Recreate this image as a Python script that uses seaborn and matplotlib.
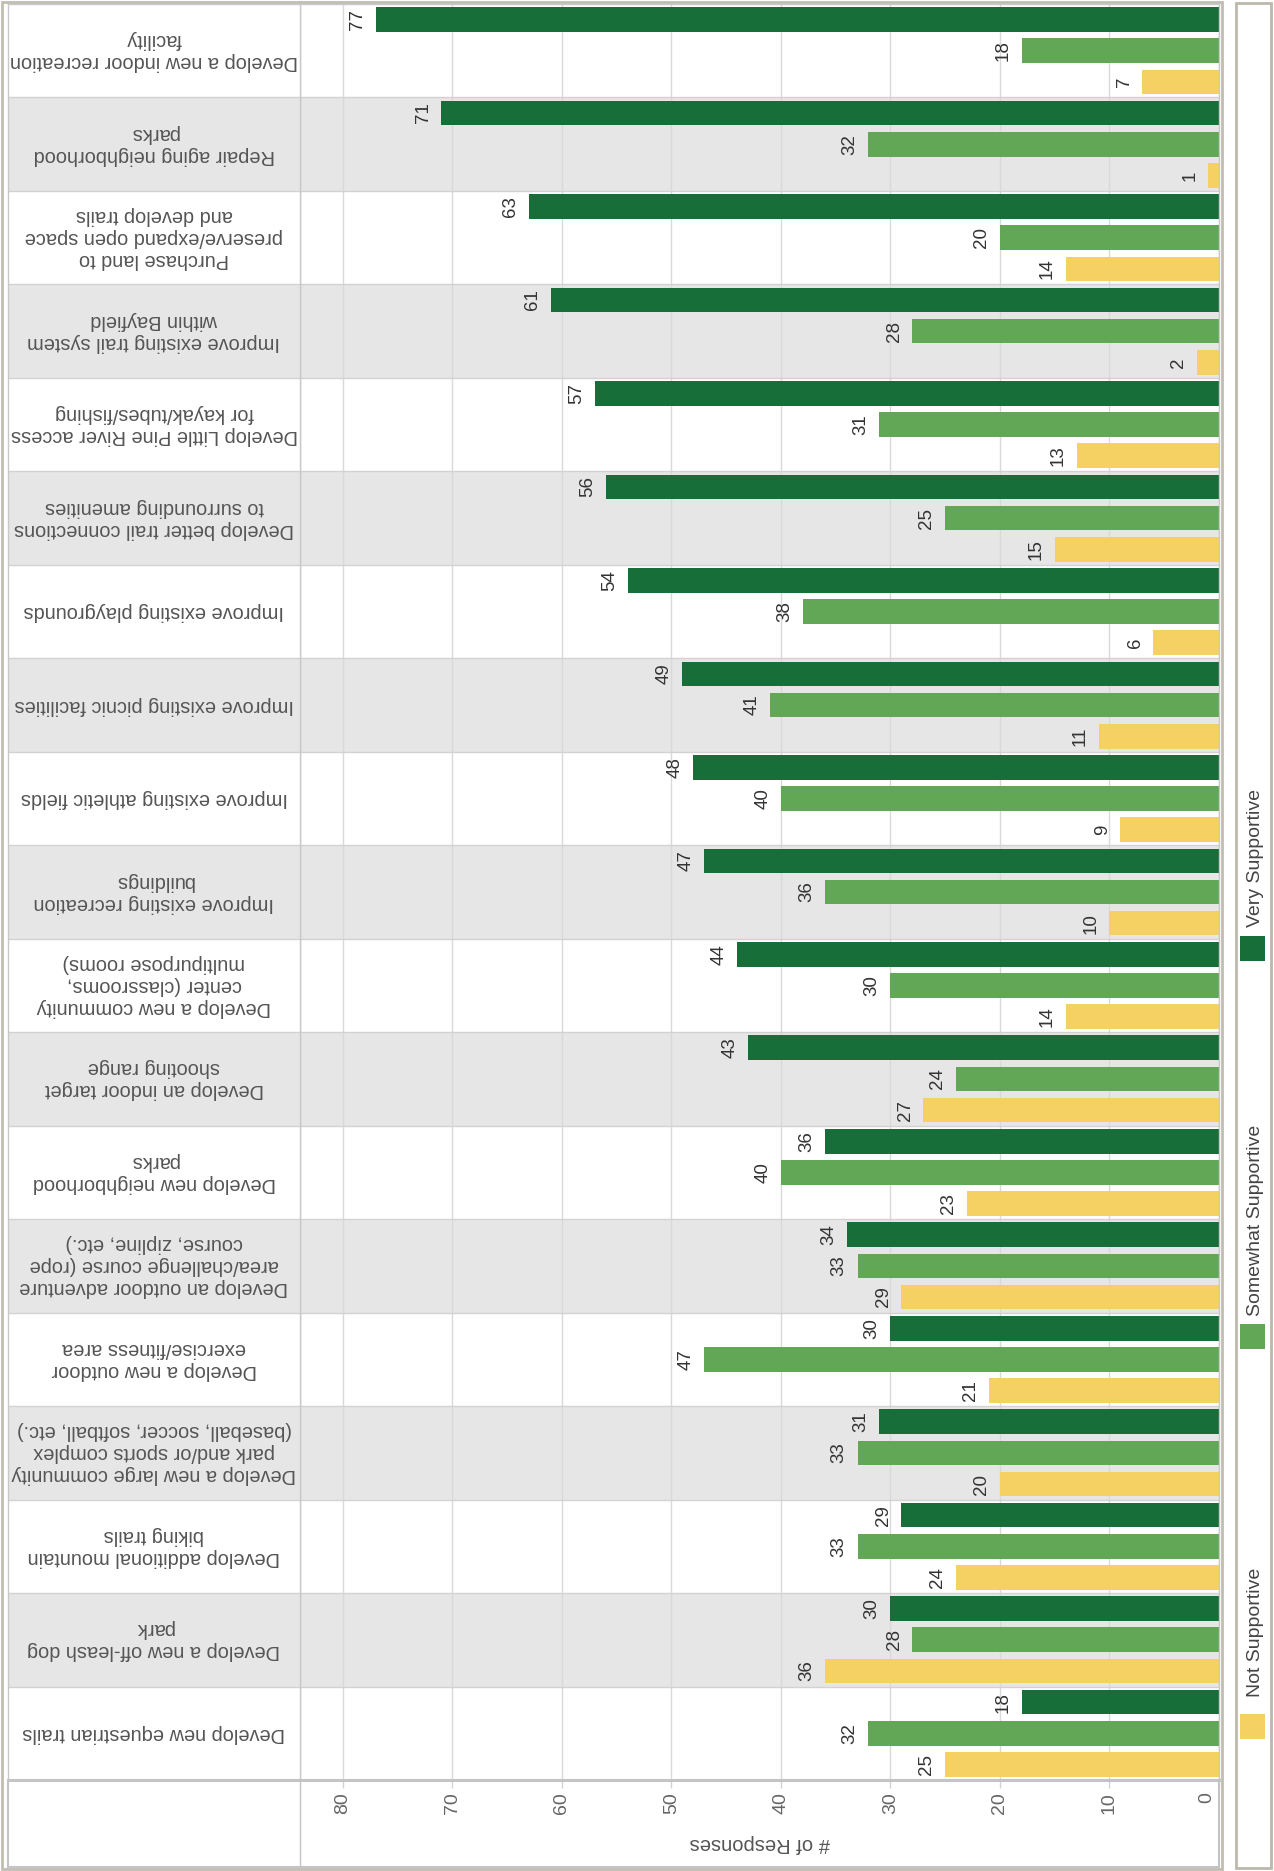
import matplotlib
matplotlib.use('Agg')
import matplotlib.pyplot as plt
from matplotlib.patches import Rectangle
from matplotlib.lines import Line2D
from matplotlib.transforms import ScaledTranslation
import pandas as pd
import seaborn as sns

# Survey data (top row first)
projects = [
    "Develop a new indoor recreation\nfacility",
    "Repair aging neighborhood\nparks",
    "Purchase land to\npreserve/expand open space\nand develop trails",
    "Improve existing trail system\nwithin Bayfield",
    "Develop Little Pine River access\nfor kayak/tubes/fishing",
    "Develop better trail connections\nto surrounding amenities",
    "Improve existing playgrounds",
    "Improve existing picnic facilities",
    "Improve existing athletic fields",
    "Improve existing recreation\nbuildings",
    "Develop a new community\ncenter (classrooms,\nmultipurpose rooms)",
    "Develop an indoor target\nshooting range",
    "Develop new neighborhood\nparks",
    "Develop an outdoor adventure\narea/challenge course (rope\ncourse, zipline, etc.)",
    "Develop a new outdoor\nexercise/fitness area",
    "Develop a new large community\npark and/or sports complex\n(baseball, soccer, softball, etc.)",
    "Develop additional mountain\nbiking trails",
    "Develop a new off-leash dog\npark",
    "Develop new equestrian trails",
]
very_supportive = [77, 71, 63, 61, 57, 56, 54, 49, 48, 47, 44, 43, 36, 34, 30, 31, 29, 30, 18]
somewhat_supportive = [18, 32, 20, 28, 31, 25, 38, 41, 40, 36, 30, 24, 40, 33, 47, 33, 33, 28, 32]
not_supportive = [7, 1, 14, 2, 13, 15, 6, 11, 9, 10, 14, 27, 23, 29, 21, 20, 24, 36, 25]

levels = ["Very Supportive", "Somewhat Supportive", "Not Supportive"]
colors = ["#176e38", "#62a756", "#f5d062"]
x_ticks = list(range(0, 81, 10))

df = pd.DataFrame({
    "Project": projects,
    levels[0]: very_supportive,
    levels[1]: somewhat_supportive,
    levels[2]: not_supportive,
}).melt(id_vars="Project", var_name="Level", value_name="Responses")

W, H = 1274, 1871


def fx(px):
    return px / W


def fy(py):
    return 1 - py / H


def box(x0, y0, x1, y1):
    return [fx(x0), fy(y1), (x1 - x0) / W, (y1 - y0) / H]


sns.set_theme(style="white")
plt.rcParams['font.family'] = ['Liberation Sans', 'DejaVu Sans']

fig = plt.figure(figsize=(W / 100, H / 100), dpi=100)
ax = fig.add_axes(box(300, 4, 1219, 1780))
ax_lab = fig.add_axes(box(8, 4, 300, 1780), sharey=ax)

sns.barplot(data=df, y="Project", x="Responses", hue="Level", hue_order=levels,
            palette=colors, orient="h", width=1.0, gap=0.21, saturation=1,
            linewidth=0, legend=False, ax=ax)

ax.set_xlim(83.9, 0)
ax.set_ylim(len(projects) - 0.5, -0.5)

band = "#e6e6e6"
sep = "#d2d2d2"
for a in (ax, ax_lab):
    for i in range(len(projects)):
        if i % 2 == 1:
            a.axhspan(i - 0.5, i + 0.5, color=band, lw=0, zorder=0)
    for i in range(len(projects) - 1):
        a.axhline(i + 0.5, color=sep, lw=1, zorder=0.6)
    for s in a.spines.values():
        s.set_color("#c8c8c8")
        s.set_linewidth(1)
    a.spines["bottom"].set_linewidth(2)
    a.spines["bottom"].set_color("#bdbdbd")

# value labels
for c in ax.containers:
    ax.bar_label(c, padding=7, rotation=90, fontsize=13.5, color="#333333")

ax.set_xticks(x_ticks)
ax.grid(axis="x", color="#d9d9d9", lw=1)
ax.set_axisbelow(True)
ax.tick_params(axis="x", bottom=True, length=6, width=1, color="#d3d3d3", pad=3,
               labelsize=14, labelcolor="#666666", labelrotation=90)
ax.tick_params(axis="y", left=False, labelleft=False)
ax.set_ylabel("")
ax.set_xlabel("# of Responses", rotation=180, fontsize=14.5, color="#555555")
ax.xaxis.set_label_coords(0.5, (1780 - 1843) / 1776)
ax.xaxis.label.set_va("center")

# keep the "0" label inside the frame
tick0 = ax.xaxis.get_major_ticks()[0]
tick0.label1.set_transform(tick0.label1.get_transform()
                           + ScaledTranslation(-0.12, 0, fig.dpi_scale_trans))

# category labels (upside down)
ax_lab.set_xlim(0, 1)
ax_lab.tick_params(left=False, labelleft=False, bottom=False, labelbottom=False)
for i, p in enumerate(projects):
    ax_lab.text(0.5, i, p, rotation=180, ha="center", va="center",
                multialignment="center", fontsize=14.4, color="#555555", linespacing=1.2)

# axis row frame and outer borders
fig.add_artist(Rectangle((fx(8), fy(1867)), (1219 - 8) / W, (1867 - 1780) / H,
                         transform=fig.transFigure, fill=False, ec="#c4c4c4", lw=1.5))
fig.add_artist(Line2D([fx(300), fx(300)], [fy(1780), fy(1867)],
                      transform=fig.transFigure, color="#c4c4c4", lw=1))
fig.add_artist(Rectangle((fx(2), fy(1869)), (1222 - 2) / W, (1869 - 2) / H,
                         transform=fig.transFigure, fill=False, ec="#c2bdb2", lw=2))

# legend panel
fig.add_artist(Rectangle((fx(1236), fy(1868)), (1271 - 1236) / W, (1868 - 3) / H,
                         transform=fig.transFigure, fc="white", ec="#bdb8ad", lw=2))
legend_pos = {"Not Supportive": (1726, 1697),
              "Somewhat Supportive": (1336, 1316),
              "Very Supportive": (948, 927)}
for lvl, col in zip(levels, colors):
    sq_c, txt_b = legend_pos[lvl]
    fig.add_artist(Rectangle((fx(1240), fy(sq_c + 12.5)), 25 / W, 25 / H,
                             transform=fig.transFigure, fc=col, ec="none"))
    fig.text(fx(1255), fy(txt_b), lvl, rotation=90, ha="center", va="bottom",
             fontsize=14, color="#444444")

plt.savefig("out.png", dpi=100)
